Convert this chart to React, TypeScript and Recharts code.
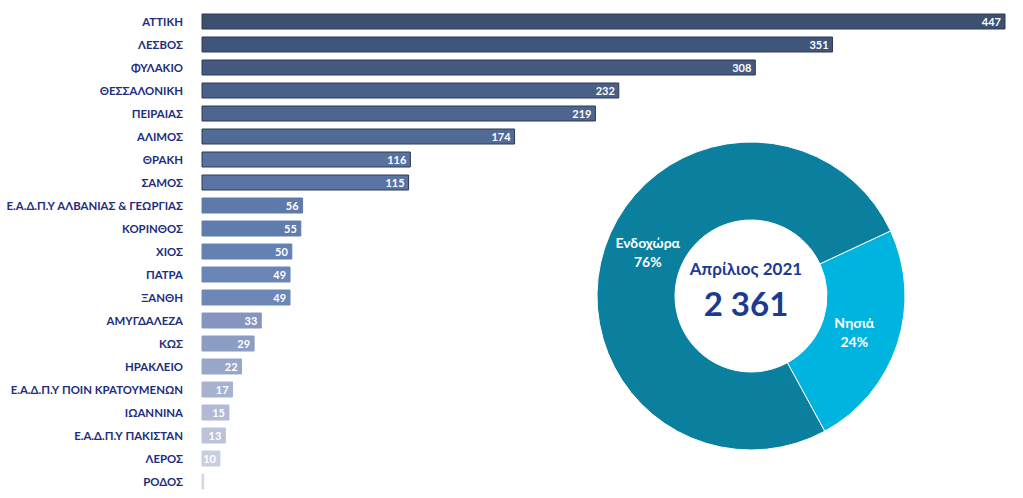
import React from 'react';
import { BarChart, Bar, XAxis, YAxis, Cell, LabelList, PieChart, Pie } from 'recharts';

const regions = [
  'ΑΤΤΙΚΗ', 'ΛΕΣΒΟΣ', 'ΦΥΛΑΚΙΟ', 'ΘΕΣΣΑΛΟΝΙΚΗ', 'ΠΕΙΡΑΙΑΣ', 'ΑΛΙΜΟΣ', 'ΘΡΑΚΗ', 'ΣΑΜΟΣ',
  'Ε.Α.Δ.Π.Υ ΑΛΒΑΝΙΑΣ & ΓΕΩΡΓΙΑΣ', 'ΚΟΡΙΝΘΟΣ', 'ΧΙΟΣ', 'ΠΑΤΡΑ', 'ΞΑΝΘΗ', 'ΑΜΥΓΔΑΛΕΖΑ', 'ΚΩΣ',
  'ΗΡΑΚΛΕΙΟ', 'Ε.Α.Δ.Π.Υ ΠΟΙΝ ΚΡΑΤΟΥΜΕΝΩΝ', 'ΙΩΑΝΝΙΝΑ', 'Ε.Α.Δ.Π.Υ ΠΑΚΙΣΤΑΝ', 'ΛΕΡΟΣ', 'ΡΟΔΟΣ',
];
const counts = [447, 351, 308, 232, 219, 174, 116, 115, 56, 55, 50, 49, 49, 33, 29, 22, 17, 15, 13, 10, 1];

const splitNames = ['Νησιά', 'Ενδοχώρα'];
const splitShares = [24, 76];
const centerTitle = 'Απρίλιος 2021';
const centerTotal = '2 361';

// bar fill shades, dark at the top fading to pale at the bottom
const BAR_COLORS = [
  '#3d5070', '#40557a', '#43597f', '#4a6088', '#4d658f', '#526b96', '#58729f', '#5a75a3',
  '#5e7aab', '#607cad', '#6581b3', '#6a86b6', '#6c88b8', '#8496c0', '#8c9dc4',
  '#98a7c9', '#a6b2d0', '#b0bad5', '#bbc3da', '#c8cee1', '#d4d8e6',
];
const PIE_COLORS = ['#00b4e0', '#0b7f9e'];

const barData = regions.map((name, i) => ({ name, value: counts[i] }));
const pieData = splitNames.map((name, i) => ({ name, value: splitShares[i] }));

const FONT = 'Lato, "Open Sans", sans-serif';
const NAVY = '#1c2e7c';

const RegionTick = ({ x, y, payload }: any) => (
  <text x={x - 11} y={y} dy={4} textAnchor="end" fill={NAVY} fontSize={11.4} fontWeight={700} fontFamily={FONT}>
    {payload.value}
  </text>
);

const ValueLabel = ({ x, y, width, height, value }: any) => {
  if (value < 5) return null;
  return (
    <text x={x + width - 4} y={y + height / 2} dy={4} textAnchor="end" fill="#fff" fontSize={11} fontWeight={700} fontFamily={FONT}>
      {value}
    </text>
  );
};

const RADIAN = Math.PI / 180;
const SliceLabel = ({ cx, cy, midAngle, innerRadius, outerRadius, name, value }: any) => {
  const r = (innerRadius + outerRadius) / 2;
  const cos = Math.cos(-midAngle * RADIAN);
  // nudge labels a little toward the hole, like the original
  const x = cx + r * cos + (cos < 0 ? 6 : -6);
  const y = cy + r * Math.sin(-midAngle * RADIAN) + (cos < 0 ? -8 : 0);
  return (
    <text x={x} y={y} textAnchor="middle" fill="#fff" fontSize={14} fontWeight={700} fontFamily={FONT}>
      <tspan x={x} dy={-4}>{name}</tspan>
      <tspan x={x} dy={19}>{value}%</tspan>
    </text>
  );
};

export default function App() {
  return (
    <div style={{ position: 'absolute', left: 0, top: 0, width: 1023, height: 498, background: '#fff' }}>
      <BarChart
        width={1023}
        height={498}
        data={barData}
        layout="vertical"
        margin={{ top: 10, right: 18, left: 0, bottom: 5 }}
        barSize={15}
      >
        <XAxis type="number" hide domain={[0, 447]} />
        <YAxis type="category" dataKey="name" width={202} axisLine={false} tickLine={false} tick={<RegionTick />} interval={0} />
        <Bar dataKey="value" isAnimationActive={false}>
          {barData.map((d, i) => (
            <Cell key={d.name} fill={BAR_COLORS[i]} stroke={i < 8 ? '#2c3b55' : BAR_COLORS[i]} strokeWidth={1} />
          ))}
          <LabelList dataKey="value" content={<ValueLabel />} />
        </Bar>
      </BarChart>
      <div style={{ position: 'absolute', left: 586, top: 131, width: 320, height: 320 }}>
        <PieChart width={320} height={320}>
          <Pie
            data={pieData}
            dataKey="value"
            cx={160}
            cy={160}
            innerRadius={76}
            outerRadius={154}
            startAngle={25}
            endAngle={-335}
            stroke="#fff"
            strokeWidth={1}
            label={<SliceLabel />}
            labelLine={false}
            isAnimationActive={false}
          >
            {pieData.map((d, i) => (
              <Cell key={d.name} fill={PIE_COLORS[i]} />
            ))}
          </Pie>
          <text x={160} y={144} textAnchor="middle" fill="#1a3a94" fontSize={17} fontWeight={700} fontFamily={FONT}>
            {centerTitle}
          </text>
          <text x={160} y={185} textAnchor="middle" fill="#1a3a94" fontSize={33} fontWeight={700} fontFamily={FONT}>
            {centerTotal}
          </text>
        </PieChart>
      </div>
    </div>
  );
}
